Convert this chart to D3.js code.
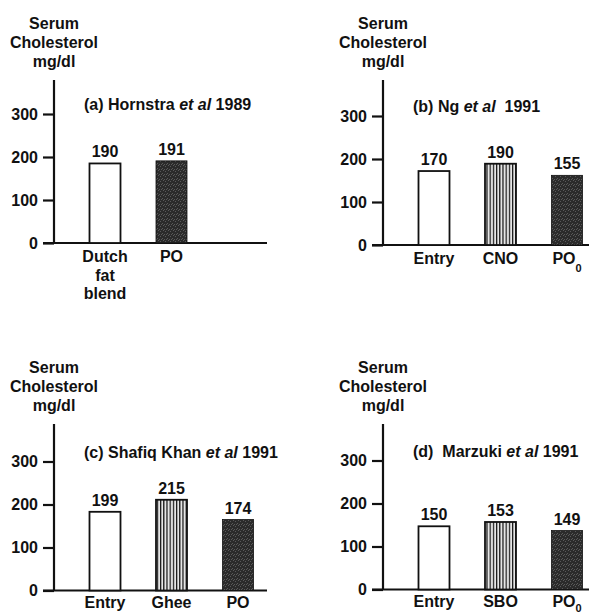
<!DOCTYPE html>
<html>
<head>
<meta charset="utf-8">
<script src="https://cdn.jsdelivr.net/npm/d3@7"></script>
<style>
  body { margin: 0; background: #fff; }
  svg text { font-family: "Liberation Sans", Arial, Helvetica, sans-serif; font-weight: bold; font-size: 16px; fill: #111; }
</style>
</head>
<body>
<div id="chart"></div>
<script>
// data
const titleLead = ["(a) Hornstra ", "(b) Ng ", "(c) Shafiq Khan ", "(d)  Marzuki "];
const titleYear = [" 1989", "  1991", " 1991", " 1991"];

const catsA = [["Dutch", "fat", "blend"], ["PO"]];
const catsB = [["Entry"], ["CNO"], ["PO", "0"]];
const catsC = [["Entry"], ["Ghee"], ["PO"]];
const catsD = [["Entry"], ["SBO"], ["PO", "0"]];

// bar heights as drawn, and the numbers printed above them
const barsA = [185, 191];
const barsB = [172, 189, 162];
const barsC = [183, 211, 165];
const barsD = [147, 157, 137];

const labelsA = ["190", "191"];
const labelsB = ["170", "190", "155"];
const labelsC = ["199", "215", "174"];
const labelsD = ["150", "153", "149"];

const fillsA = ["open", "dark"];
const fillsB = ["open", "striped", "dark"];
const fillsC = ["open", "striped", "dark"];
const fillsD = ["open", "striped", "dark"];

const yTicks = [0, 100, 200, 300];
const yLabel = ["Serum", "Cholesterol", "mg/dl"];

const width = 589, height = 614;

// where each panel's axes sit
const layout = [
    { ax: 54, base: 243, top: 80, catGap: 19 },
    { ax: 383, base: 245, top: 80, catGap: 19 },
    { ax: 54, base: 590.5, top: 424, catGap: 17 },
    { ax: 383, base: 589.5, top: 424, catGap: 17 }
];

const panels = [
    { cats: catsA, bars: barsA, labels: labelsA, fills: fillsA },
    { cats: catsB, bars: barsB, labels: labelsB, fills: fillsB },
    { cats: catsC, bars: barsC, labels: labelsC, fills: fillsC },
    { cats: catsD, bars: barsD, labels: labelsD, fills: fillsD }
];

const svg = d3.select("#chart")
    .append("svg")
    .attr("width", width)
    .attr("height", height);

// patterns for the hatched and the dark bars
const defs = svg.append("defs");
const stripes = defs.append("pattern")
    .attr("id", "stripes")
    .attr("patternUnits", "userSpaceOnUse")
    .attr("width", 3.2).attr("height", 4);
stripes.append("rect").attr("width", 3.2).attr("height", 4).attr("fill", "#e6e6e6");
stripes.append("rect").attr("width", 1.2).attr("height", 4).attr("fill", "#111");

const dark = defs.append("pattern")
    .attr("id", "dark")
    .attr("patternUnits", "userSpaceOnUse")
    .attr("width", 5).attr("height", 5);
dark.append("rect").attr("width", 5).attr("height", 5).attr("fill", "#2b2b2b");
[[0, 1], [2, 3], [3, 0], [4, 4], [1, 4]].forEach(p => {
    dark.append("rect").attr("x", p[0]).attr("y", p[1]).attr("width", 1).attr("height", 1).attr("fill", "#5a5a5a");
});

const fillFor = { open: "#fff", striped: "url(#stripes)", dark: "url(#dark)" };

panels.forEach((p, i) => {
    const L = layout[i];
    const g = svg.append("g");

    const yScale = d3.scaleLinear()
        .domain([0, 300])
        .range([L.base, L.base - 300 * 0.43]);

    const xScale = d3.scalePoint()
        .domain([0, 1, 2])
        .range([L.ax + 51, L.ax + 184]);

    const barW = 31;

    // y axis line and ticks
    g.append("line")
        .attr("x1", L.ax).attr("x2", L.ax)
        .attr("y1", L.top).attr("y2", L.base)
        .attr("stroke", "#111").attr("stroke-width", 2.2);

    const yAxis = g.append("g")
        .attr("transform", `translate(${L.ax},0)`)
        .call(d3.axisLeft(yScale).tickValues(yTicks).tickSize(11).tickSizeOuter(0).tickPadding(5));
    yAxis.select(".domain").remove();
    yAxis.selectAll(".tick line").attr("stroke", "#111").attr("stroke-width", 2.2);
    yAxis.selectAll(".tick text")
        .attr("font-size", null).attr("font-family", null)
        .style("font-size", "16px");

    // baseline
    g.append("line")
        .attr("x1", L.ax - 11).attr("x2", Math.min(L.ax + 213, width))
        .attr("y1", L.base).attr("y2", L.base)
        .attr("stroke", "#111").attr("stroke-width", 2.2);

    // y axis title
    g.append("text")
        .attr("text-anchor", "middle")
        .selectAll("tspan")
        .data(yLabel)
        .join("tspan")
        .attr("x", L.ax)
        .attr("y", (d, j) => L.top - 51 + j * 19)
        .text(d => d);

    // panel title
    const t = g.append("text")
        .attr("x", L.ax + 30)
        .attr("y", L.base - 133)
        .style("white-space", "pre");
    t.append("tspan").text(titleLead[i]);
    t.append("tspan").style("font-style", "italic").text("et al");
    t.append("tspan").text(titleYear[i]);

    // bars
    g.selectAll("rect.bar")
        .data(p.bars)
        .join("rect")
        .attr("class", "bar")
        .attr("x", (d, j) => xScale(j) - barW / 2)
        .attr("y", d => yScale(d))
        .attr("width", barW)
        .attr("height", d => L.base - yScale(d))
        .attr("fill", (d, j) => fillFor[p.fills[j]])
        .attr("stroke", "#111")
        .attr("stroke-width", (d, j) => p.fills[j] === "dark" ? 0.8 : 1.8);

    // value labels
    g.selectAll("text.val")
        .data(p.bars)
        .join("text")
        .attr("class", "val")
        .attr("text-anchor", "middle")
        .attr("x", (d, j) => xScale(j))
        .attr("y", d => yScale(d) - 6)
        .text((d, j) => p.labels[j]);

    // category labels
    p.cats.forEach((c, j) => {
        const lab = g.append("text")
            .attr("text-anchor", "middle")
            .attr("x", xScale(j))
            .attr("y", L.base + L.catGap);
        if (c.length === 2 && c[1] === "0") {
            lab.append("tspan").text(c[0]);
            lab.append("tspan").style("font-size", "11px").attr("dy", i < 2 ? 8 : 5).text(c[1]);
        } else {
            c.forEach((line, k) => {
                lab.append("tspan")
                    .attr("x", xScale(j))
                    .attr("dy", k === 0 ? 0 : 18.5)
                    .text(line);
            });
        }
    });
});
</script>
</body>
</html>
